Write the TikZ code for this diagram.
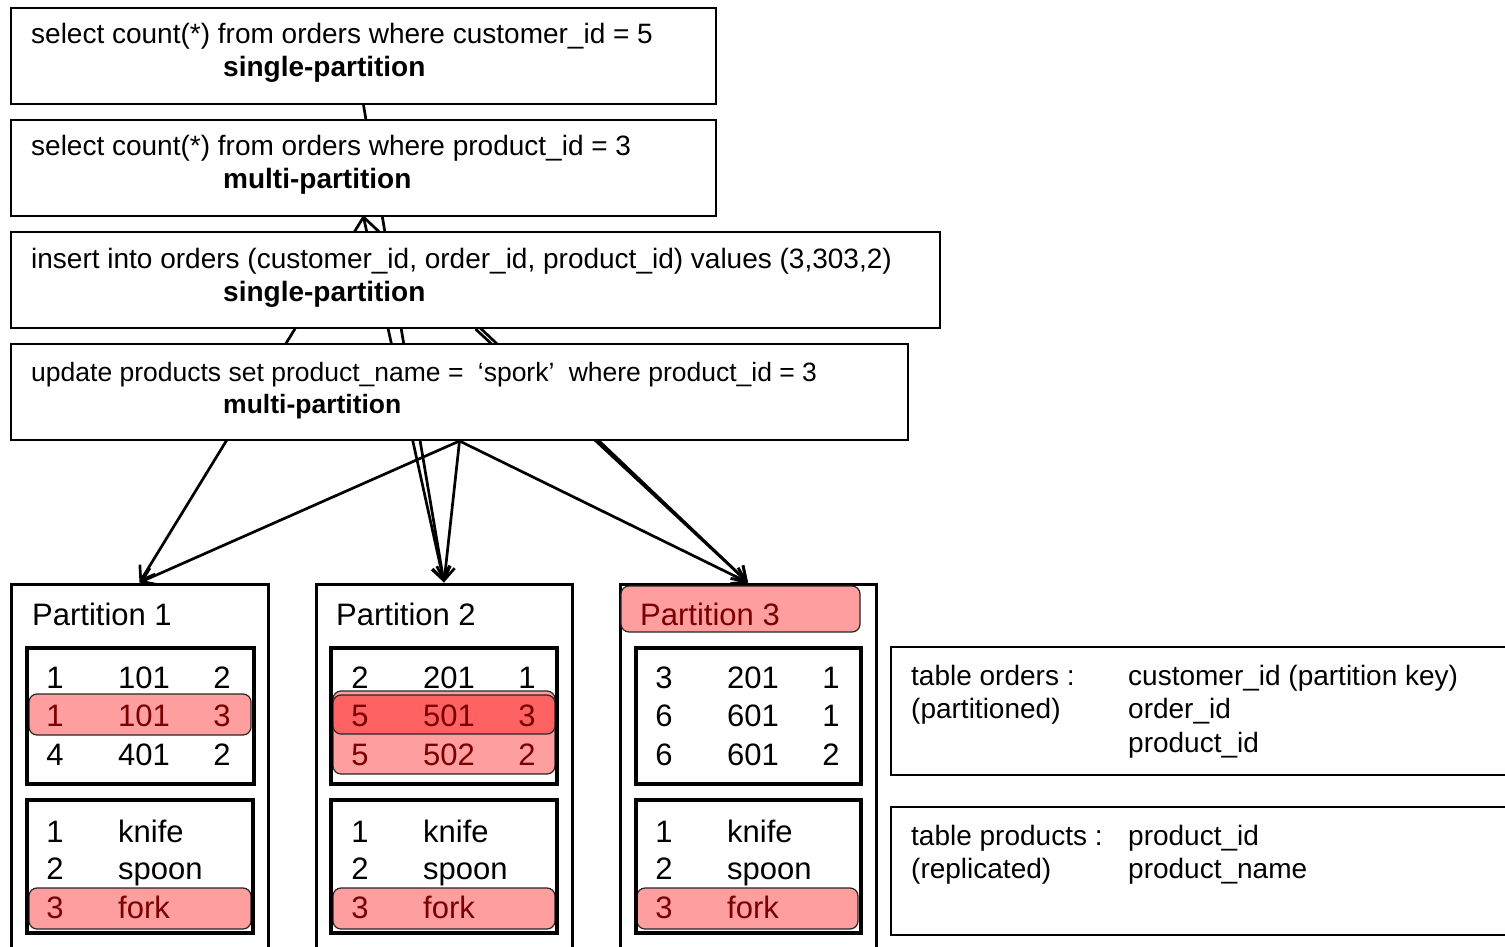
\documentclass[tikz,border=0pt]{standalone}
\usepackage{fontspec}
\setmainfont{Liberation Sans}
\usetikzlibrary{arrows.meta,fit}
\definecolor{lred}{HTML}{FF9E9E}
\definecolor{dred}{HTML}{FF6262}
\definecolor{tred}{HTML}{7A0000}
\pgfdeclarelayer{bg}
\pgfsetlayers{bg,main}
\newcommand\ordrowx[7]{%
  \node[ttxt,text=#4] (#1a) at (#2+44,#3) {#5};
  \node[ttxt,text=#4] (#1b) at (#2+133,#3) {#6};
  \node[ttxt,text=#4] (#1c) at (#2+211,#3) {#7};}
\newcommand\prodrowx[6]{%
  \node[ttxt,text=#4] (#1a) at (#2+44,#3) {#5};
  \node[ttxt,text=#4,anchor=base west] (#1b) at (#2+107,#3) {#6};}
\begin{document}
\begin{tikzpicture}[x=1pt,y=-1pt,
  qbox/.style={draw, line width=2pt, fill=white, inner sep=0pt},
  pbox/.style={draw, line width=3pt, inner sep=0pt},
  tbox/.style={draw, line width=3.5pt, inner sep=0pt},
  ibox/.style={draw, line width=2pt, inner sep=0pt},
  hl/.style={draw=black!85, line width=1.2pt, fill=lred, rounded corners=8pt, inner sep=0pt},
  hld/.style={hl, fill=dred},
  qtxt/.style={font=\fontsize{28}{34}\selectfont, inner sep=0pt, anchor=base west},
  qbold/.style={font=\fontsize{28}{34}\selectfont\bfseries, inner sep=0pt, anchor=base west},
  qtxts/.style={font=\fontsize{26.5}{32}\selectfont, inner sep=0pt, anchor=base west},
  qbolds/.style={font=\fontsize{26.5}{32}\selectfont\bfseries, inner sep=0pt, anchor=base west},
  ttxt/.style={font=\fontsize{31}{37}\selectfont, inner sep=0pt, anchor=base},
  itxt/.style={font=\fontsize{28}{34}\selectfont, inner sep=0pt, anchor=base west},
  arr/.style={line width=2.7pt, -{Straight Barb[length=13pt,width=18pt,line width=2.7pt]}}
]
\useasboundingbox (0,0) rectangle (1505,947);

% query boxes
\node[qbox, fit={(11,8) (716,104)}] (q1) {};
\node[qtxt] (q1a) at (31,44) {select count(*) from orders where customer\_id = 5};
\node[qbold] (q1b) at (223,77) {single-partition};

\node[qbox, fit={(11,120) (716,216)}] (q2) {};
\node[qtxt] (q2a) at (31,156) {select count(*) from orders where product\_id = 3};
\node[qbold] (q2b) at (223,189) {multi-partition};

\node[qbox, fit={(11,232) (940,328)}] (q3) {};
\node[qtxt] (q3a) at (31,268) {insert into orders (customer\_id, order\_id, product\_id) values (3,303,2)};
\node[qbold] (q3b) at (223,301) {single-partition};

\node[qbox, fit={(11,344) (908,440)}] (q4) {};
\node[qtxts] (q4a) at (31,381) {update products set product\_name =\hspace{7pt} ‘spork’\hspace{7pt} where product\_id = 3};
\node[qbolds] (q4b) at (223,413) {multi-partition};

% partitions
\node[pbox, fit={(11,584) (268,965)}] (p1) {};
\node[pbox, fit={(316,584) (572,965)}] (p2) {};
\node[pbox, fit={(620,584) (876,965)}] (p3) {};

\node[ttxt, anchor=base west] (p1t) at (32,625) {Partition 1};
\node[ttxt, anchor=base west] (p2t) at (336,625) {Partition 2};
\node[hl, fit={(621,586) (860,632)}] (p3h) {};
\node[ttxt, anchor=base west, text=tred] (p3t) at (640,625) {Partition 3};

% highlights
\node[hl, fit={(29,694) (251,735)}] (h1) {};
\node[hl, fit={(333,691) (555,774)}] (h2) {};
\node[hld, fit={(333,695) (555,734)}] (h2d) {};
\node[hl, fit={(29,888) (251,929)}] (h1f) {};
\node[hl, fit={(333,888) (555,929)}] (h2f) {};
\node[hl, fit={(637,888) (858,929)}] (h3f) {};

% table boxes
\node[tbox, fit={(27,648) (254,784)}] (o1) {};
\node[tbox, fit={(331,648) (557,784)}] (o2) {};
\node[tbox, fit={(636,648) (861,784)}] (o3) {};
\node[tbox, fit={(27,800) (253,933)}] (r1) {};
\node[tbox, fit={(331,800) (557,933)}] (r2) {};
\node[tbox, fit={(636,800) (861,933)}] (r3) {};

% order rows
\ordrowx{pa}{11}{688}{black}{1}{101}{2}
\ordrowx{pb}{11}{726}{tred}{1}{101}{3}
\ordrowx{pc}{11}{765}{black}{4}{401}{2}
\ordrowx{qa}{316}{688}{black}{2}{201}{1}
\ordrowx{qb}{316}{726}{tred}{5}{501}{3}
\ordrowx{qc}{316}{765}{tred}{5}{502}{2}
\ordrowx{ra}{620}{688}{black}{3}{201}{1}
\ordrowx{rb}{620}{726}{black}{6}{601}{1}
\ordrowx{rc}{620}{765}{black}{6}{601}{2}

% product rows
\prodrowx{xa}{11}{842}{black}{1}{knife}
\prodrowx{xb}{11}{879}{black}{2}{spoon}
\prodrowx{xc}{11}{918}{tred}{3}{fork}
\prodrowx{ya}{316}{842}{black}{1}{knife}
\prodrowx{yb}{316}{879}{black}{2}{spoon}
\prodrowx{yc}{316}{918}{tred}{3}{fork}
\prodrowx{za}{620}{842}{black}{1}{knife}
\prodrowx{zb}{620}{879}{black}{2}{spoon}
\prodrowx{zc}{620}{918}{tred}{3}{fork}

% info boxes
\node[ibox, fit={(891,647) (1520,775)}] (io) {};
\node[itxt] (io1) at (911,685) {table orders :};
\node[itxt] (io2) at (911,718) {(partitioned)};
\node[itxt] (io3) at (1128,685) {customer\_id (partition key)};
\node[itxt] (io4) at (1128,718) {order\_id};
\node[itxt] (io5) at (1128,752) {product\_id};

\node[ibox, fit={(891,807) (1520,935)}] (ip) {};
\node[itxt] (ip1) at (911,845) {table products :};
\node[itxt] (ip2) at (911,878) {(replicated)};
\node[itxt] (ip3) at (1128,845) {product\_id};
\node[itxt] (ip4) at (1128,878) {product\_name};

% arrows behind boxes
\begin{pgfonlayer}{bg}
\draw[arr] (q1.south) -- (p2.north);
\draw[arr] (q2.south) -- (p1.north);
\draw[arr] (q2.south) -- (p2.north);
\draw[arr] (q2.south) -- (p3.north);
\draw[arr] (q3.south) -- (p3.north);
\draw[arr] (q4.south) -- (p1.north);
\draw[arr] (q4.south) -- (p2.north);
\draw[arr] (q4.south) -- (p3.north);
\end{pgfonlayer}
\end{tikzpicture}
\end{document}
